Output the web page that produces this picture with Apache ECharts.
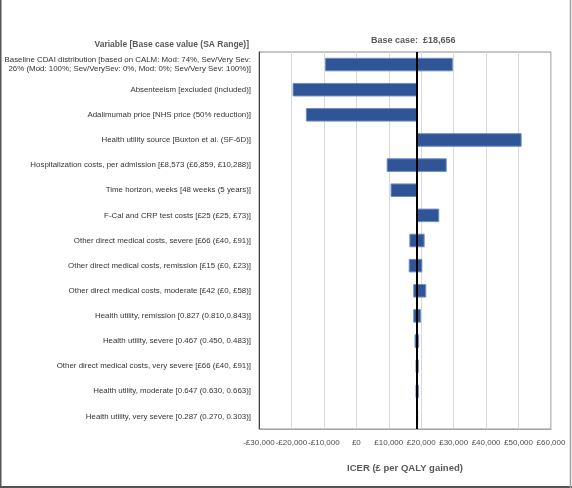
<!DOCTYPE html>
<html>
<head>
<meta charset="utf-8">
<script src="https://cdn.jsdelivr.net/npm/echarts@6/dist/echarts.min.js"></script>
<style>
html,body{margin:0;padding:0;background:#fff;}
#chart{width:572px;height:488px;}
</style>
</head>
<body>
<div id="chart"></div>
<script>
// ---- data ----
const baseCase = 18656;
const categories = [
  "Baseline CDAI distribution [based on CALM: Mod: 74%, Sev/Very Sev:\n26% (Mod: 100%; Sev/VerySev: 0%, Mod: 0%; Sev/Very Sev: 100%)]",
  "Absenteeism [excluded (included)]",
  "Adalimumab price [NHS price (50% reduction)]",
  "Health utility source [Buxton et al. (SF-6D)]",
  "Hospitalization costs, per admission [£8,573 (£6,859, £10,288)]",
  "Time horizon, weeks [48 weeks (5 years)]",
  "F-Cal and CRP test costs [£25 (£25, £73)]",
  "Other direct medical costs, severe [£66 (£40, £91)]",
  "Other direct medical costs, remission [£15 (£0, £23)]",
  "Other direct medical costs, moderate [£42 (£0, £58)]",
  "Health utility, remission [0.827 (0.810,0.843)]",
  "Health utility, severe [0.467 (0.450, 0.483)]",
  "Other direct medical costs, very severe [£66 (£40, £91)]",
  "Health utility, moderate [0.647 (0.630, 0.663)]",
  "Health utility, very severe [0.287 (0.270, 0.303)]"
];
const lowValues  = [-9500, -19500, -15400, 18656,  9500, 10700, 18656, 16500, 16300, 17700, 17700, 18100, 18400, 18400, 18600];
const highValues = [29600,  18656,  18656, 50800, 27700, 18656, 25400, 20900, 20200, 21400, 19800, 19200, 19100, 19100, 18700];
const xTicks = [-30000, -20000, -10000, 0, 10000, 20000, 30000, 40000, 50000, 60000];

// ---- chart ----
const chart = echarts.init(document.getElementById('chart'), null, {renderer: 'canvas'});
const fmt = v => (v < 0 ? '-£' : '£') + Math.abs(v).toLocaleString('en-GB');
const seriesData = categories.map((c, i) => [lowValues[i], highValues[i], i]);

const option = {
  animation: false,
  backgroundColor: '#ffffff',
  textStyle: {fontFamily: 'Liberation Sans'},
  title: [
    {text: 'Variable [Base case value (SA Range)]', right: 318, top: 35,
     textStyle: {fontSize: 8.5, fontWeight: 'bold', color: '#595959', fontFamily: 'Liberation Sans'}},
    {text: 'Base case:  £18,656', left: 366, top: 31,
     textStyle: {fontSize: 9, fontWeight: 'bold', color: '#595959', fontFamily: 'Liberation Sans'}}
  ],
  grid: {left: 259, right: 21, top: 52, bottom: 59, show: true, borderColor: '#8c8c8c', borderWidth: 1,
         containLabel: false, outerBoundsMode: 'none'},
  xAxis: {
    type: 'value', min: xTicks[0], max: xTicks[xTicks.length - 1], interval: 10000,
    name: 'ICER (£ per QALY gained)', nameLocation: 'middle', nameGap: 34,
    nameTextStyle: {fontSize: 9.5, fontWeight: 'bold', color: '#595959'},
    axisLine: {show: true, lineStyle: {color: '#a6a6a6', width: 1}},
    axisTick: {show: false},
    splitLine: {show: true, lineStyle: {color: '#d9d9d9', width: 1}},
    axisLabel: {formatter: fmt, fontSize: 8, color: '#4d4d4d', margin: 10, hideOverlap: false}
  },
  yAxis: {
    type: 'category', data: categories, inverse: true,
    axisLine: {show: true, onZero: false, lineStyle: {color: '#404040', width: 1}},
    axisTick: {show: false},
    splitLine: {show: false},
    axisLabel: {fontSize: 7.9, color: '#333333', margin: 8, lineHeight: 9, interval: 0}
  },
  series: [{
    type: 'custom',
    data: seriesData,
    encode: {x: [0, 1], y: 2},
    renderItem: function (params, api) {
      const lo = api.value(0), hi = api.value(1), idx = api.value(2);
      const p1 = api.coord([Math.min(lo, hi), idx]);
      const p2 = api.coord([Math.max(lo, hi), idx]);
      const h = api.size([0, 1])[1] * 0.5;
      return {
        type: 'rect',
        shape: {x: p1[0], y: p1[1] - h / 2, width: Math.max(p2[0] - p1[0], 1), height: h},
        style: {fill: '#2f5597', stroke: '#6f8cc4', lineWidth: 1}
      };
    },
    z: 3
  }, {
    type: 'line',
    data: [],
    markLine: {
      silent: true, symbol: 'none', label: {show: false},
      lineStyle: {color: '#000000', width: 2, type: 'solid'},
      data: [{xAxis: baseCase}]
    },
    z: 4
  }],
  graphic: [
    {type: 'line', shape: {x1: 0.5, y1: 0, x2: 0.5, y2: 488}, style: {stroke: '#555555', lineWidth: 2}},
    {type: 'line', shape: {x1: 0, y1: 487, x2: 572, y2: 487}, style: {stroke: '#555555', lineWidth: 2}},
    {type: 'line', shape: {x1: 570.5, y1: 0, x2: 570.5, y2: 488}, style: {stroke: '#a0a0a0', lineWidth: 1.5}}
  ]
};
chart.setOption(option);
</script>
</body>
</html>
